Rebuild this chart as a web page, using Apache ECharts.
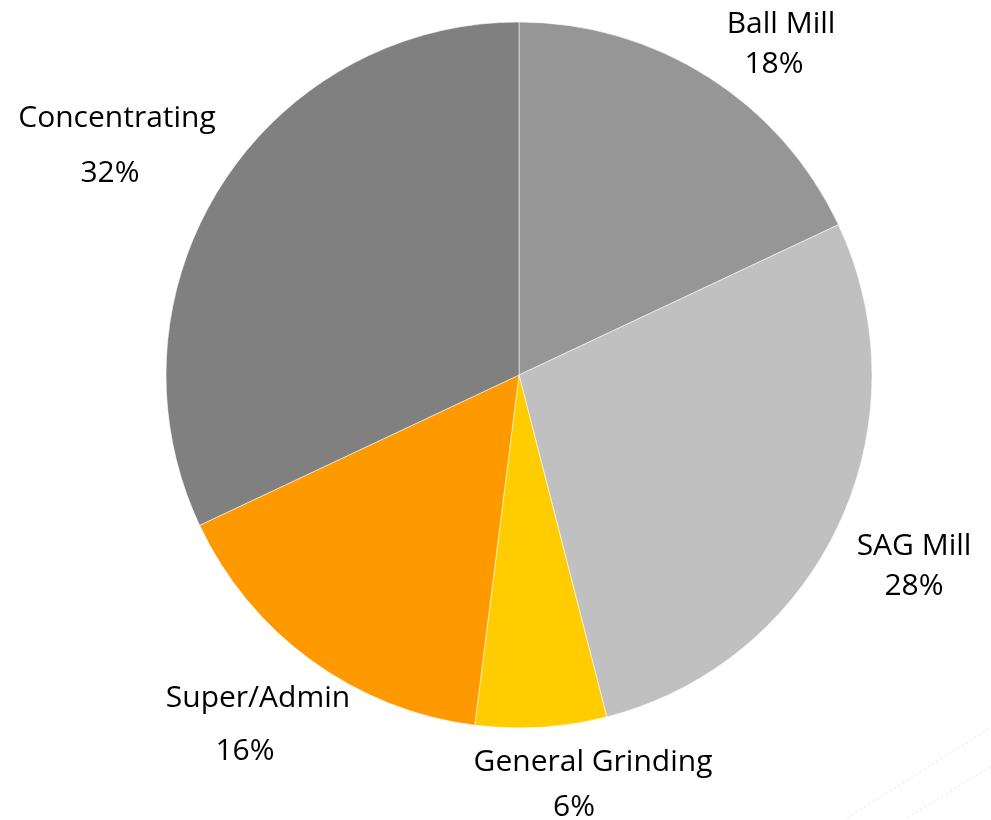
<!DOCTYPE html>
<html>
<head>
<meta charset="utf-8">
<title>Energy use by area</title>
<script src="https://cdn.jsdelivr.net/npm/echarts@6/dist/echarts.min.js"></script>
<style>
  html, body { margin: 0; padding: 0; background: #ffffff; }
  #chart { width: 991px; height: 820px; }
</style>
</head>
<body>
<div id="chart"></div>
<script>
// Share of energy use by plant area, clockwise from 12 o'clock
const categories = ['Ball Mill', 'SAG Mill', 'General Grinding', 'Super/Admin', 'Concentrating'];
const shares = [18, 28, 6, 16, 32];
const sliceColors = ['#969696', '#c0c0c0', '#ffcc00', '#ff9900', '#808080'];

// Label placement for each area: block centre x, top y, line gap, left shift of the % line
const labelPlacement = {
  'Ball Mill':        { x: 781, top: 4,   gap: 40, shift: 7 },
  'SAG Mill':         { x: 914, top: 526, gap: 40, shift: 0 },
  'General Grinding': { x: 593, top: 742, gap: 45, shift: 19 },
  'Super/Admin':      { x: 258, top: 678, gap: 53, shift: 13 },
  'Concentrating':    { x: 117, top: 98,  gap: 55, shift: 7 }
};

const FONT = '"Open Sans", "Noto Sans", sans-serif';
const FONT_SIZE = 30;
const NAME_LH = 40;

const seriesData = categories.map((name, i) => {
  const p = labelPlacement[name];
  return {
    name: name,
    value: shares[i],
    itemStyle: { color: sliceColors[i] },
    label: {
      rich: {
        n: { fontFamily: FONT, fontSize: FONT_SIZE, color: '#000', lineHeight: NAME_LH, align: 'center' },
        p: {
          fontFamily: FONT, fontSize: FONT_SIZE, color: '#000', align: 'center',
          lineHeight: 2 * p.gap - NAME_LH,
          padding: [0, 2 * p.shift, 0, 0]
        }
      }
    }
  };
});

const chart = echarts.init(document.getElementById('chart'), null, { renderer: 'canvas' });

chart.setOption({
  backgroundColor: '#ffffff',
  animation: false,
  series: [{
    type: 'pie',
    center: [519, 375],
    radius: 353,
    startAngle: 90,
    clockwise: true,
    avoidLabelOverlap: false,
    itemStyle: { borderColor: 'rgba(255,255,255,0.55)', borderWidth: 1 },
    emphasis: { disabled: true },
    label: {
      show: true,
      position: 'outside',
      formatter: '{n|{b}}\n{p|{d}%}'
    },
    labelLine: { show: false },
    labelLayout: function (params) {
      const p = labelPlacement[categories[params.dataIndex]];
      return { x: p.x, y: p.top, align: 'center', verticalAlign: 'top', hideOverlap: false };
    },
    data: seriesData
  }],
  graphic: [
    {
      type: 'line', silent: true,
      shape: { x1: 847, y1: 818, x2: 990, y2: 728 },
      style: { stroke: '#ebebeb', lineWidth: 1, lineDash: [3, 2] }
    },
    {
      type: 'line', silent: true,
      shape: { x1: 907, y1: 818, x2: 990, y2: 767 },
      style: { stroke: '#ebebeb', lineWidth: 1, lineDash: [3, 2] }
    }
  ]
});
</script>
</body>
</html>
